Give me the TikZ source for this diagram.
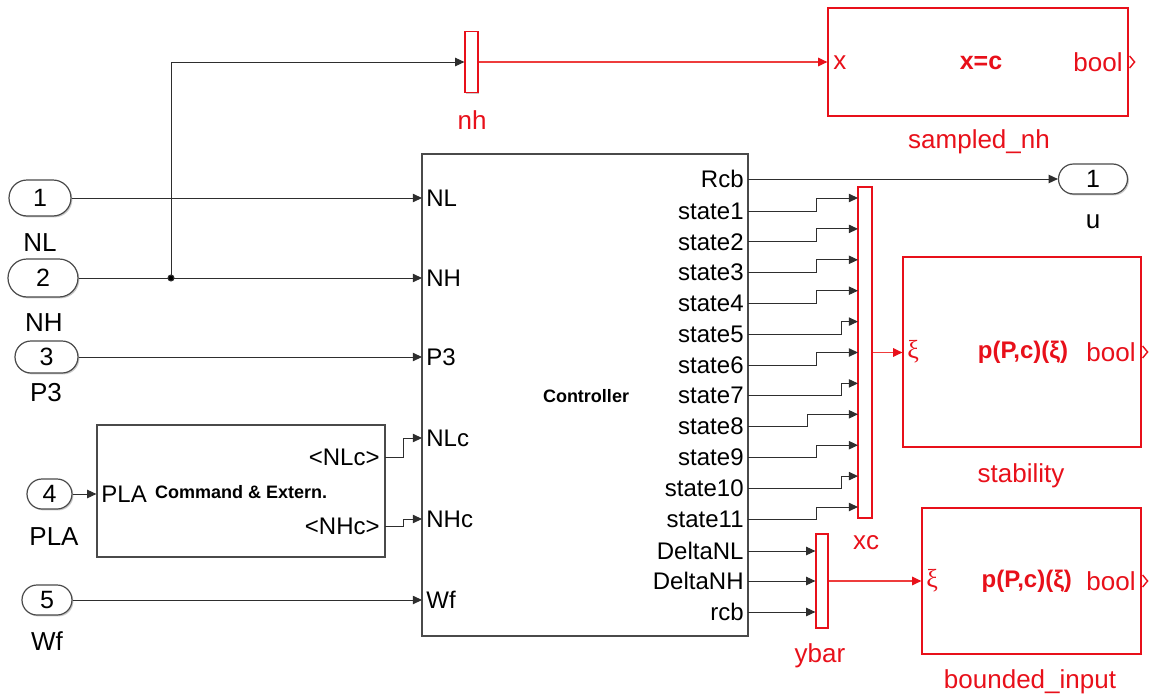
\documentclass[tikz,border=0pt]{standalone}
\usepackage{fontspec}
\setmainfont{Liberation Sans}
\newfontfamily\grfont{Liberation Serif}
\usetikzlibrary{arrows.meta,shapes.misc,shadows}
\definecolor{simred}{HTML}{E8101A}
\definecolor{wirered}{HTML}{EE3C3C}
\definecolor{wire}{HTML}{2E2E2E}
\definecolor{edge}{HTML}{4A4A4A}
\tikzset{
  blk/.style={draw=edge,fill=white,line width=.6pt,inner sep=0pt,
    drop shadow={shadow xshift=.7pt,shadow yshift=-.7pt,opacity=.35,fill=black!60}},
  redblk/.style={blk,draw=simred},
  inport/.style={rounded rectangle,draw=edge,fill=white,line width=.6pt,inner sep=0pt,
    font=\fontsize{12.5}{14}\selectfont,
    drop shadow={shadow xshift=.7pt,shadow yshift=-.7pt,opacity=.35,fill=black!60}},
  wire/.style={draw=wire,line width=.5pt,-{Triangle[length=4.6pt,width=4.2pt]}},
  redwire/.style={draw=wirered,line width=.7pt,-{Triangle[length=4.6pt,width=4.2pt,color=simred]}},
  plab/.style={font=\fontsize{12}{14}\selectfont,inner sep=1pt},
  blab/.style={font=\fontsize{13}{15}\selectfont,inner sep=1pt},
  chev/.style={draw=simred,line width=.7pt}
}
\begin{document}
\begin{tikzpicture}[x=.5pt,y=-.5pt]
  \useasboundingbox (0,0) rectangle (1151,696);

  % inports
  \node[inport,minimum width=31pt,minimum height=18pt] (in1) at (40,198) {1};
  \node[inport,minimum width=35pt,minimum height=19pt] (in2) at (43,278) {2};
  \node[inport,minimum width=31.5pt,minimum height=16pt] (in3) at (46.5,357) {3};
  \node[inport,minimum width=22.5pt,minimum height=15pt] (in4) at (49.5,494) {4};
  \node[inport,minimum width=25pt,minimum height=15pt] (in5) at (47,600) {5};
  \foreach \n/\x/\y/\lab in {1/40/243/NL,2/44/323/NH,3/46/393/P3,4/54/537/PLA,5/47/641/Wf} {
    \node[blab] (in\n lab) at (\x,\y) {\lab};
  }

  % controller
  \node[blk,minimum width=163pt,minimum height=241pt] (ctrl) at (585,395) {};
  \node[font=\fontsize{9}{11}\selectfont\bfseries] (ctrltxt) at (586,396) {Controller};
  \foreach \n/\y/\lab in {1/198/NL,2/278/NH,3/357/P3,4/438/NLc,5/519/NHc,6/600/Wf} {
    \coordinate (ci\n) at (422,\y);
    \node[plab,anchor=west] (cil\n) at (424,\y) {\lab};
  }
  \coordinate (ro) at (748,179);
  \node[plab,anchor=east] (rol) at (746,179) {Rcb};
  \foreach \n/\y/\lab in {1/551/DeltaNL,2/581/DeltaNH,3/612/rcb} {
    \coordinate (do\n) at (748,\y);
    \node[plab,anchor=east] (dol\n) at (746,\y) {\lab};
  }

  % command block
  \node[blk,minimum width=144pt,minimum height=66pt] (cmd) at (241,491) {};
  \node[plab,anchor=west] (cmdin) at (99,494) {PLA};
  \node[font=\fontsize{9}{11}\selectfont\bfseries,anchor=west] (cmdtxt) at (148,492) {Command \& Extern.};
  \node[plab,anchor=east] (co1l) at (382,457) {<NLc>};
  \node[plab,anchor=east] (co2l) at (382,526) {<NHc>};
  \coordinate (co1) at (385,457);
  \coordinate (co2) at (385,526);

  % muxes
  \node[redblk,minimum width=6.5pt,minimum height=30.5pt] (nh) at (471.5,62) {};
  \node[blab,text=simred] (nhlab) at (472,120) {nh};
  \node[redblk,minimum width=7pt,minimum height=165.5pt] (xc) at (865,352.5) {};
  \node[blab,text=simred] (xclab) at (866,543) {xc};
  \node[redblk,minimum width=6pt,minimum height=47pt] (yb) at (822,581) {};
  \node[blab,text=simred] (yblab) at (820,656) {ybar};

  % requirement blocks
  \node[redblk,minimum width=150pt,minimum height=54pt] (snh) at (978,62) {};
  \node[blab,text=simred,anchor=west] (snhin) at (831,63) {x};
  \node[font=\fontsize{12.5}{14}\selectfont\bfseries,text=simred] (snhtxt) at (981,63) {x=c};
  \node[blab,text=simred,anchor=east] (snhout) at (1125,62) {bool};
  \node[blab,text=simred] (snhlab) at (979,142) {sampled\_nh};

  \node[redblk,minimum width=119pt,minimum height=95pt] (stab) at (1022,352) {};
  \node[blab,text=simred,anchor=west,font=\grfont\fontsize{13}{15}\selectfont] (stabin) at (905,352) {ξ};
  \node[font=\fontsize{12}{14}\selectfont\bfseries,text=simred] (stabtxt) at (1023,352) {p(P,c)(ξ)};
  \node[blab,text=simred,anchor=east] (stabout) at (1138,352) {bool};
  \node[blab,text=simred] (stablab) at (1021,476) {stability};

  \node[redblk,minimum width=109.5pt,minimum height=73pt] (bnd) at (1031.5,581) {};
  \node[blab,text=simred,anchor=west,font=\grfont\fontsize{13}{15}\selectfont] (bndin) at (924,581) {ξ};
  \node[font=\fontsize{12}{14}\selectfont\bfseries,text=simred,anchor=east] (bndtxt) at (1079,581) {p(P,c)(ξ)};
  \node[blab,text=simred,anchor=east] (bndout) at (1138,581) {bool};
  \node[blab,text=simred] (bndlab) at (1030,682) {bounded\_input};

  \foreach \b in {snh,stab,bnd} {
    \draw[chev] ([xshift=.5pt,yshift=3pt]\b.east |- \b out.center) -- ([xshift=3pt]\b.east |- \b out.center)
      -- ([xshift=.5pt,yshift=-3pt]\b.east |- \b out.center);
  }

  % outport
  \node[inport,minimum width=34.5pt,minimum height=15pt] (u) at (1093,179) {1};
  \node[blab] (ulab) at (1093,222) {u};

  % wires
  \coordinate (br) at (171,278);
  \draw[wire] (in1.east) -- (ci1);
  \draw[wire] (in2.east) -- (ci2);
  \draw[wire] (in3.east) -- (ci3);
  \draw[wire] (in4.east) -- (cmd.west |- in4.east);
  \draw[wire] (in5.east) -- (ci6);
  \draw[wire] (br) |- (nh.west);
  \fill[wire] (br) circle (1.5pt);
  \draw[wire] (co1) -- ++(18,0) |- (ci4);
  \draw[wire] (co2) -- ++(18,0) |- (ci5);
  \draw[wire] (ro) -- (u.west);
  \foreach \k/\bx in {1/816,2/816,3/816,4/816,5/841,6/816,7/841,8/807,9/816,10/841,11/816} {
    \pgfmathsetmacro\ys{211+(\k-1)*30.8}
    \pgfmathsetmacro\ym{198+(\k-1)*30.9}
    \coordinate (so\k) at (748,\ys);
    \coordinate (xi\k) at (858,\ym);
    \node[plab,anchor=east] (sol\k) at (746,\ys) {state\k};
    \draw[wire] (so\k) -- (\bx,\ys) |- (xi\k);
  }
  \foreach \n in {1,2,3} {
    \draw[wire] (do\n) -- (do\n -| yb.west);
  }
  \draw[redwire] (nh.east) -- (snh.west |- nh.east);
  \draw[redwire] (xc.east) -- (stab.west |- xc.east);
  \draw[redwire] (yb.east) -- (bnd.west |- yb.east);
\end{tikzpicture}
\end{document}
